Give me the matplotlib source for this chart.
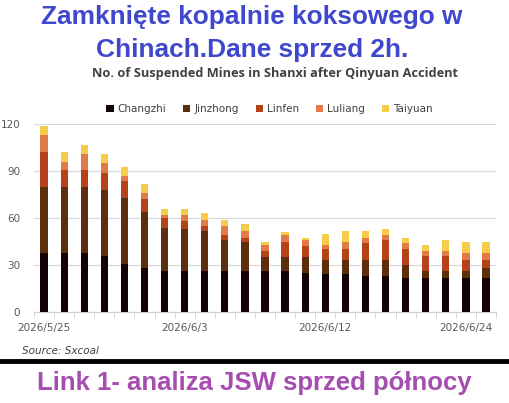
import matplotlib
matplotlib.use("Agg")
from matplotlib import pyplot as plt
import numpy as np

dates = ["2026/5/25", "", "", "", "", "", "", "2026/6/3", "", "", "", "", "", "",
         "2026/6/12", "", "", "", "", "", "", "2026/6/24", ""]
changzhi = [38, 38, 38, 36, 31, 28, 26, 26, 26, 26, 26, 26, 26, 25, 24, 24, 23, 23, 22, 22, 22, 22, 22]
jinzhong = [42, 42, 42, 42, 42, 36, 28, 27, 26, 20, 19, 9, 9, 10, 9, 9, 10, 10, 8, 4, 4, 4, 6]
linfen = [22, 11, 11, 11, 11, 8, 6, 5, 3, 3, 2, 4, 10, 7, 7, 7, 11, 13, 10, 10, 10, 7, 5]
luliang = [11, 5, 10, 6, 3, 4, 2, 4, 4, 6, 5, 4, 4, 4, 3, 5, 3, 3, 4, 3, 3, 5, 5]
taiyuan = [6, 6, 6, 6, 6, 6, 4, 4, 4, 4, 4, 2, 2, 1, 7, 7, 5, 4, 3, 4, 7, 7, 7]

series = [("Changzhi", changzhi, "#140304"),
          ("Jinzhong", jinzhong, "#5c2e0e"),
          ("Linfen", linfen, "#b5421b"),
          ("Luliang", luliang, "#e07b45"),
          ("Taiyuan", taiyuan, "#f5cd4a")]

fig = plt.figure(figsize=(5.09, 4.03), dpi=100)
ax = fig.add_axes([0.0668, 0.2258, 0.9077, 0.4658])

x = np.arange(len(dates))
bottom = np.zeros(len(dates))
for name, vals, col in series:
    ax.bar(x, vals, 0.36, bottom=bottom, color=col, label=name, zorder=3)
    bottom += np.array(vals)

ax.set_xlim(-0.5, len(dates) - 0.5)
ax.set_ylim(0, 120)
ax.set_yticks([0, 30, 60, 90, 120])
ax.grid(axis="y", color="#d9d9d9", linewidth=0.9, zorder=0)
for s in ["top", "right", "left"]:
    ax.spines[s].set_visible(False)
ax.spines["bottom"].set_color("#d0d0d0")

ax.set_xticks(x)
ax.set_xticklabels(dates)
ax.set_xticks(np.arange(-0.5, len(dates)), minor=True)
ax.tick_params(axis="x", which="major", length=0, pad=8, labelsize=7.5, labelcolor="#595959")
ax.tick_params(axis="x", which="minor", length=4, color="#d0d0d0")
ax.tick_params(axis="y", length=0, pad=10, labelsize=7.5, labelcolor="#595959")

ax.legend(loc="lower center", bbox_to_anchor=(0.51, 1.005), ncol=5, frameon=False,
          fontsize=7.5, handlelength=0.7, handleheight=0.7, handletextpad=0.4,
          columnspacing=1.6, labelcolor="#404040")

fig.text(0.494, 0.958, "Zamknięte kopalnie koksowego w", ha="center", va="center",
         fontsize=18.9, fontweight="bold", color="#3f47cc", family="Liberation Sans")
fig.text(0.496, 0.877, "Chinach.Dane sprzed 2h.", ha="center", va="center",
         fontsize=18.9, fontweight="bold", color="#3f47cc", family="Liberation Sans")
fig.text(0.541, 0.818, "No. of Suspended Mines in Shanxi after Qinyuan Accident",
         ha="center", va="center", fontsize=9.2, fontweight="bold", color="#404040",
         family="Open Sans")

fig.text(0.043, 0.128, "Source: Sxcoal", ha="left", va="center", fontsize=7.5,
         style="italic", color="#404040")
fig.add_artist(plt.Line2D([0, 1], [0.104, 0.104], transform=fig.transFigure,
                          color="black", linewidth=3.5))
fig.text(0.5, 0.05, "Link 1- analiza JSW sprzed północy", ha="center", va="center",
         fontsize=18.5, fontweight="bold", color="#a64db0", family="Liberation Sans")

fig.savefig("out.png", dpi=100)
